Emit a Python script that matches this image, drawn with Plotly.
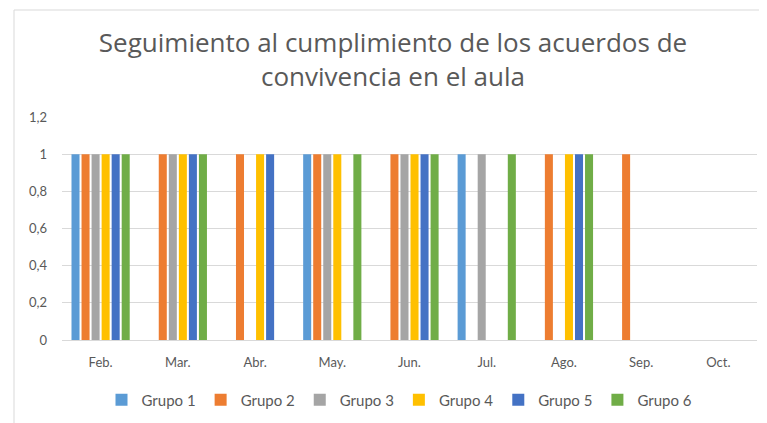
import plotly.graph_objects as go

months = ["Feb.", "Mar.", "Abr.", "May.", "Jun.", "Jul.", "Ago.", "Sep.", "Oct."]
grupo1 = [1, 0, 0, 1, 0, 1, 0, 0, 0]
grupo2 = [1, 1, 1, 1, 1, 0, 1, 1, 0]
grupo3 = [1, 1, 0, 1, 1, 1, 0, 0, 0]
grupo4 = [1, 1, 1, 1, 1, 0, 1, 0, 0]
grupo5 = [1, 1, 1, 0, 1, 0, 1, 0, 0]
grupo6 = [1, 1, 0, 1, 1, 1, 1, 0, 0]

series = [
    ("Grupo 1", grupo1, "#5B9BD5"),
    ("Grupo 2", grupo2, "#ED7D31"),
    ("Grupo 3", grupo3, "#A5A5A5"),
    ("Grupo 4", grupo4, "#FFC000"),
    ("Grupo 5", grupo5, "#4472C4"),
    ("Grupo 6", grupo6, "#70AD47"),
]

fig = go.Figure()
for name, vals, col in series:
    fig.add_trace(go.Bar(x=months, y=vals, name=name, marker_color=col,
                         marker_line_width=0))

# page body has an 8px offset; figure coordinates = screen - 8
OFF = 8
W, H = 767 - OFF, 423 - OFF
L, R, T, B = 62 - OFF, 10, 117 - OFF, 83
pw, ph = W - L - R, H - T - B

def px_x(sx):
    return (sx - OFF - L) / pw

def px_y(sy):
    return (H - B - (sy - OFF)) / ph

fig.update_layout(
    width=W, height=H,
    margin=dict(l=L, r=R, t=T, b=B, autoexpand=False),
    paper_bgcolor="white", plot_bgcolor="white",
    font=dict(family="Lato, Open Sans, sans-serif", color="#595959"),
    title=dict(text="Seguimiento al cumplimiento de los acuerdos de<br>convivencia en el aula",
               x=(393 - OFF) / W, xanchor="center", y=1 - 44 / H, yanchor="middle",
               font=dict(size=26, color="#595959", family="Open Sans")),
    barmode="group", bargap=0.22, bargroupgap=0.2,
    showlegend=True,
    legend=dict(orientation="h", x=0.5 - 10 / pw, xanchor="center", y=px_y(400), yanchor="middle",
                font=dict(size=15, color="#595959"), itemwidth=30,
                traceorder="normal"),
    xaxis=dict(showgrid=False, showline=True, linecolor="#D9D9D9", ticks="",
               ticklabelstandoff=10,
               tickfont=dict(size=13, color="#595959")),
    yaxis=dict(range=[0, 1.2005], showgrid=True, gridcolor="#D9D9D9",
               zeroline=False, showline=False, ticklabelstandoff=14,
               tickvals=[0, 0.2, 0.4, 0.6, 0.8, 1, 1.2],
               ticktext=["0", "0,2", "0,4", "0,6", "0,8", "1", "1,2"],
               tickfont=dict(size=13, color="#595959")),
)

fig.add_shape(type="rect", xref="paper", yref="paper",
              x0=px_x(14), x1=px_x(900), y0=px_y(600), y1=px_y(10),
              line=dict(color="#D9D9D9", width=1), fillcolor="rgba(0,0,0,0)", layer="below")

fig.write_html("out.html")
